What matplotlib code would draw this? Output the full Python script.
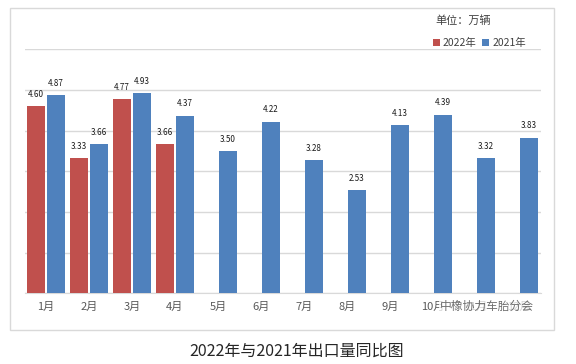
import matplotlib
matplotlib.use("Agg")
import matplotlib.pyplot as plt
import numpy as np
from matplotlib.patches import Rectangle

plt.rcParams["font.family"] = ["Noto Sans CJK SC", "DejaVu Sans"]

# data
months = ["1月", "2月", "3月", "4月", "5月", "6月",
          "7月", "8月", "9月", "10月", "11月", "12月"]
vals_2022 = [4.60, 3.33, 4.77, 3.66]
vals_2021 = [4.87, 3.66, 4.93, 4.37, 3.50, 4.22,
             3.28, 2.53, 4.13, 4.39, 3.32, 3.83]

RED = "#C0504D"
BLUE = "#4F81BD"
GRID = "#D9D9D9"

W, H = 576, 364
fig = plt.figure(figsize=(W / 100, H / 100), dpi=100)

# outer chart frame
fig.patches.append(Rectangle((9.7 / W, 1 - 330 / H), (554 - 9.7) / W, (330 - 8.3) / H,
                             transform=fig.transFigure, fill=False,
                             edgecolor=GRID, linewidth=1.0))

ax = fig.add_axes([24.5 / W, 1 - 293.3 / H, (540.5 - 24.5) / W, (293.3 - 49.3) / H])

x = np.arange(len(months))
off, bw = 0.232, 0.425
x22 = x[:len(vals_2022)]
b1 = ax.bar(x22 - off, vals_2022, bw, color=RED, label="2022年", zorder=3)
b2 = ax.bar(x + off, vals_2021, bw, color=BLUE, label="2021年", zorder=3)

for xs, vs in ((x22 - off, vals_2022), (x + off, vals_2021)):
    for xi, v in zip(xs, vs):
        ax.annotate(f"{v:.2f}", (xi, v), xytext=(0, 8.5), textcoords="offset points",
                    ha="center", va="center", fontsize=5.8, color="#1a1a1a")

ax.set_xlim(-0.5, len(months) - 0.5)
ax.set_ylim(0, 6)
ax.set_yticks(range(0, 7))
ax.yaxis.grid(True, color=GRID, linewidth=1.0, zorder=0)
ax.tick_params(axis="y", left=False, labelleft=False)
ax.set_xticks(x)
ax.set_xticklabels(months, fontsize=8, color="#595959")
ax.tick_params(axis="x", length=0, pad=6)
for s in ("left", "right", "top"):
    ax.spines[s].set_visible(False)
ax.spines["bottom"].set_color(GRID)

# unit note and legend
fig.text(463 / W, 1 - 21 / H, "单位：万辆", ha="center", va="center",
         fontsize=8, color="#404040")
fig.legend(handles=[b1, b2], loc="center right",
           bbox_to_anchor=(526 / W, 1 - 43 / H), ncol=2, frameon=False,
           fontsize=7.5, handlelength=0.7, handleheight=0.7,
           handletextpad=0.3, columnspacing=0.5, borderpad=0,
           borderaxespad=0, labelcolor="#404040")

# watermark over the last month labels
fig.text(487 / W, 1 - 306 / H, "中橡协力车胎分会", ha="center", va="center",
         fontsize=8.5, color="#555555", alpha=0.85,
         bbox=dict(facecolor="white", edgecolor="none", alpha=0.75, pad=0.5))

# caption
fig.text(297 / W, 1 - 351 / H, "2022年与2021年出口量同比图", ha="center",
         va="center", fontsize=11.5, color="#262626")

fig.savefig("out.png", dpi=100)
